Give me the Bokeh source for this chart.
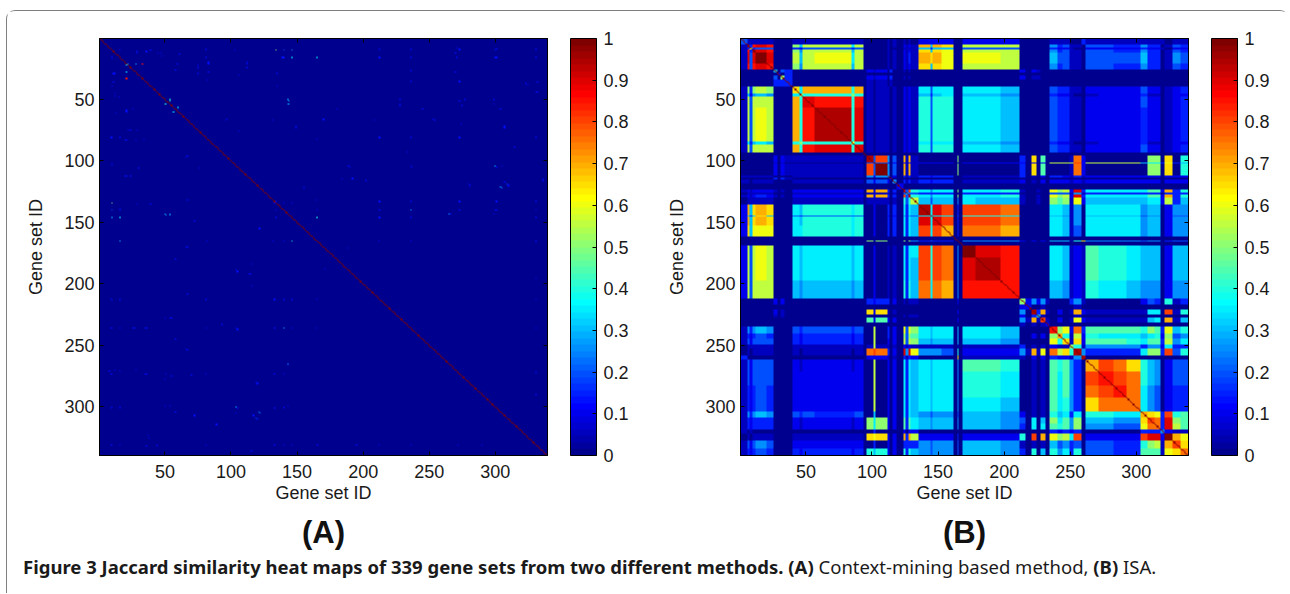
import numpy as np
from bokeh.embed import file_html
from bokeh.resources import INLINE
from bokeh.plotting import figure
from bokeh.layouts import row, column
from bokeh.models import (LinearColorMapper, ColorBar, FixedTicker, LinearAxis,
                          Range1d, Title, Div)

N_SETS = 339
axis_ticks = [50, 100, 150, 200, 250, 300]
bar_ticks = [0, .1, .2, .3, .4, .5, .6, .7, .8, .9, 1]
bar_labels = {0: "0", .1: "0.1", .2: "0.2", .3: "0.3", .4: "0.4", .5: "0.5",
              .6: "0.6", .7: "0.7", .8: "0.8", .9: "0.9", 1: "1"}
x_label = "Gene set ID"
y_label = "Gene set ID"

# Panel A: off-diagonal similarities (mirrored about the diagonal)
spot_i = [134,140,146,146,140,21,21,21,33,54,51,60,57,143,143,10,16,16,146,51,54,236,104,265,305,304,307,309]
spot_j = [10,10,10,16,16,22,28,33,21,50,54,56,60,50,54,134,146,165,165,144,144,140,300,143,122,121,117,119]
spot_v = [.42,.2,.28,.25,.15,.3,.33,.3,.85,.4,.42,.35,.35,.3,.3,.5,.35,.35,.4,.3,.3,.32,.35,.3,.25,.25,.2,.2]
faint_level = .14
faint_i = [10,16,29,39,47,61,81,81,75,83,83,59,75,112,103,11,11,12,15,26,21,20,24,34,10,97,132,149,
           67,76,30,20,24,155,122,72,82,16,29,39,133,140,146,132,140,67,
           166,195,212,236,272,290,212,236,271,273,301,331,212,236,301,331,270,236,270,273,236,323,332,332,
           228,228,180,245,277,299,299,275,304,253,170,208,274,307,212,236,273,331,233,315,190,237,305,301,
           192,184,202,336,280,212,236,273,301,331,212,273,301,331,299,212,236,331,212,236,331,188,
           58,104,114,10,16,81,133,140,146,54,93,104,10,16,26,36,81,133,146,58,67,143,10,16,36,51,55,81,140,
           120,10,16,54,140,120,117,72,89,38,10,16,133,140,146,44,115]
faint_j = [16,10,12,10,12,13,9,16,22,21,28,21,29,21,10,29,36,45,48,58,60,83,75,82,81,66,67,73,
           96,106,106,112,112,121,155,149,165,139,135,135,134,134,134,165,165,170,
           331,331,331,331,331,331,9,9,8,9,9,9,16,16,16,16,12,27,28,35,35,37,36,44,
           50,55,58,58,50,50,54,55,58,66,66,67,70,73,81,81,81,81,93,89,105,105,104,105,
           115,115,116,116,119,133,133,133,133,133,140,140,140,140,143,146,146,146,165,165,165,171,
           180,189,192,213,213,213,213,213,213,228,233,236,236,236,236,236,236,236,236,245,254,266,273,271,273,273,275,273,273,
           281,300,300,299,300,310,307,307,314,325,331,331,331,331,331,331,336]

# Panel B: first gene set ID of each band, and the read level between bands.
# One character per band pair: 0-9 = 0 to .45, a-k = .5 to 1, in steps of .05.
band_starts = [1,6,8,10,12,21,26,29,31,34,40,46,48,57,85,87,94,96,102,103,112,114,116,119,
               124,126,128,130,136,145,146,153,162,165,166,169,179,198,212,217,221,225,228,232,
               235,241,245,250,253,259,262,272,283,293,304,309,314,319,322,328,334]
band_levels = [
 "4 11111 0000 111111 0 000 1010 1010 2222 000 222 000000 111 003 1111 1111011",
 "j3hih 0000 a6bb7b 0 000 1010 2121 e6ed 000 bbb 000000 534 110 4433 5330143",
 "b344 0000 324434 0 000 1000 1111 6366 000 444 000000 322 100 2222 3221022",
 "jih 0000 a5bb6b 0 000 1010 2121 d6dc 000 bbb 000000 534 110 4433 5330143",
 "ki 0000 b6bc7b 0 000 1010 2131 edec 000 ccb 000000 644 110 4444 6330154",
 "h 0000 a5bb6b 0 000 1010 2121 d6dc 000 bbb 000000 534 110 4433 5330143",
 "6043 000000 0 212 0300 1010 0000 000 000 202100 000 000 0000 0000000",
 "203 000000 0 000 0000 0000 0000 000 000 000000 000 000 0000 0000000",
 "a3 000000 0 212 0300 1010 0000 000 000 201100 000 000 0000 0000000",
 "3 000000 0 101 0100 0000 0000 000 000 000000 000 000 0000 0000000",
 "d7ee8e 0 101 1010 2121 7477 000 776 000000 433 110 2222 4220123",
 "b88a8 0 101 1010 2121 6367 000 665 000000 322 100 1222 3110122",
 "ih8h 0 101 1010 2121 8488 000 776 000000 433 110 2222 4220123",
 "j8i 0 101 1010 2121 8488 000 776 000000 433 110 2222 3220123",
 "c8 0 101 1010 2121 7477 000 665 000000 322 100 1222 3110122",
 "i 0 101 1010 2121 8488 000 776 000000 433 110 2222 4220123",
 "0 000 0000 0000 0000 000 000 000000 000 000 0000 0000000",
 "j4g 5040 e1e1 0000 0a0 000 30d090 000 1f2 0000 0aa0d08",
 "b4 2020 2121 2222 010 222 202020 bbb bg2 bbbb 6773c36",
 "k 5040 e1e1 0000 0a0 000 30d090 000 1f2 0000 0aa0d08",
 "5020 3131 3233 000 111 301020 332 131 2222 2220222",
 "200 0000 0000 000 000 000000 000 000 0000 0000000",
 "50 3131 3233 000 111 201020 222 121 2222 2220222",
 "2 0000 0000 000 000 000000 000 000 0000 0000000",
 "i4g8 7577 0a0 778 100100 cab 2i3 7777 7992e38",
 "644 3333 000 333 000000 444 151 3333 3330333",
 "i8 7577 0a0 778 100100 cab 2i3 7777 7992e38",
 "b 6466 050 766 100100 a9a 1c2 6666 6772b36",
 "j7ig 030 ggf 000000 776 150 7777 5660255",
 "e77 040 887 000000 665 150 6666 4550244",
 "ig 030 ggf 000000 776 150 7777 5660255",
 "e 030 ffe 000000 776 140 7777 5660255",
 "000 000 000000 000 000 0000 0000000",
 "a0 555 202020 666 18d 5555 4550344",
 "0 000 000000 000 000 0000 0000000",
 "kih 000000 776 121 9887 6660266",
 "jh 000000 776 121 9887 6660266",
 "h 000000 665 121 8776 5550255",
 "a25251 000 351 0000 2430813",
 "20010 000 010 0000 0000000",
 "j3e1 020 1e2 1111 1770g18",
 "610 000 010 0000 0000000",
 "g1 020 1c2 1111 1670e16",
 "2 000 000 0000 0000000",
 "hac 2f3 9999 8a93c68",
 "e8 1b2 8777 6782a45",
 "d 1d2 9998 7993b57",
 "a81 5555 3552733",
 "j5 3333 7aa3g48",
 "j 0000 0000000",
 "egfd 8650244",
 "hgf 8650244",
 "hf 7540233",
 "f 7540233",
 "edc3g89",
 "gf3ia9",
 "f3ib9",
 "5211",
 "kec",
 "gd",
 "f",
]
level_chars = "0123456789abcdefghijk"

caption_bold = "Figure 3 Jaccard similarity heat maps of 339 gene sets from two different methods."
caption_a = "Context-mining based method,"
caption_b = "ISA."

# ---------------------------------------------------------------------------
za = np.zeros((N_SETS, N_SETS))
for i, j, v in zip(spot_i, spot_j, spot_v):
    za[j - 1, i - 1] = v
    za[i - 1, j - 1] = v
for i, j in zip(faint_i, faint_j):
    za[j - 1, i - 1] = faint_level
    za[i - 1, j - 1] = faint_level
np.fill_diagonal(za, 1.0)

nb = len(band_starts)
edges = [s - 1 for s in band_starts] + [N_SETS]
zb = np.zeros((N_SETS, N_SETS))
for a, rowtxt in enumerate(band_levels):
    chars = rowtxt.replace(" ", "")
    assert len(chars) == nb - a, (a, len(chars), nb - a)
    for k, ch in enumerate(chars):
        b = a + k
        v = level_chars.index(ch) * .05
        zb[edges[a]:edges[a + 1], edges[b]:edges[b + 1]] = v
        zb[edges[b]:edges[b + 1], edges[a]:edges[a + 1]] = v
np.fill_diagonal(zb, 1.0)

palette = []
for k in range(64):
    x = (k + 1) / 64
    r = np.clip(min(4 * x - 1.5, -4 * x + 4.5), 0, 1)
    g = np.clip(min(4 * x - 0.5, -4 * x + 3.5), 0, 1)
    bl = np.clip(min(4 * x + 0.5, -4 * x + 2.5), 0, 1)
    palette.append("#%02x%02x%02x" % (int(r * 255), int(g * 255), int(bl * 255)))
mapper = LinearColorMapper(palette=palette, low=0, high=1)

FONT = "Liberation Sans"
TXT = "#1a1a1a"
FS = "18px"

def panel(z, tag):
    p = figure(frame_width=449, frame_height=417,
               x_range=Range1d(.5, N_SETS + .5), y_range=Range1d(N_SETS + .5, .5),
               output_backend="svg", toolbar_location=None,
               min_border_left=92, min_border_right=100, min_border_top=27,
               min_border_bottom=10, background_fill_color="white",
               border_fill_color="white", outline_line_color="black")
    p.grid.visible = False
    p.image(image=[z], x=.5, y=.5, dw=N_SETS, dh=N_SETS, color_mapper=mapper)
    for ax, lab in ((p.xaxis[0], x_label), (p.yaxis[0], y_label)):
        ax.ticker = FixedTicker(ticks=axis_ticks)
        ax.axis_label = lab
        ax.axis_label_text_font = FONT
        ax.axis_label_text_font_style = "normal"
        ax.axis_label_text_font_size = FS
        ax.axis_label_text_color = TXT
        ax.major_label_text_font = FONT
        ax.major_label_text_font_size = FS
        ax.major_label_text_color = TXT
        ax.major_tick_in = 4
        ax.major_tick_out = 0
        ax.minor_tick_line_color = None
        ax.axis_line_color = "black"
    p.xaxis[0].major_label_standoff = 9
    p.yaxis[0].major_label_standoff = 5
    p.xaxis[0].axis_label_standoff = 2
    p.yaxis[0].axis_label_standoff = 15
    for side in ("above", "right"):
        extra = LinearAxis(ticker=FixedTicker(ticks=axis_ticks), major_tick_in=4, major_tick_out=0,
                           minor_tick_line_color=None, major_label_text_font_size="0px",
                           major_label_text_color=None, axis_line_color="black",
                           major_label_standoff=0)
        p.add_layout(extra, side)
    cb = ColorBar(color_mapper=mapper, ticker=FixedTicker(ticks=bar_ticks),
                  major_label_overrides=bar_labels, width=26, height=417,
                  major_label_text_font=FONT, major_label_text_font_size=FS,
                  major_label_text_color=TXT, major_tick_in=4, major_tick_line_color="black",
                  bar_line_color="black", padding=0, margin=0, location=(23, 0),
                  label_standoff=7, background_fill_color=None, border_line_color=None)
    p.add_layout(cb, "right")
    p.add_layout(Title(text=tag, align="center", text_font=FONT, text_font_size="31px",
                       text_font_style="bold", text_color="#111111", standoff=15), "below")
    return p

pa = panel(za, "(A)")
pb = panel(zb, "(B)")

cap = Div(text=f'<b>{caption_bold} (A)</b> {caption_a} <b>(B)</b> {caption_b}', width=1270, height=30,
          styles={"font-family": "'Noto Sans'", "font-size": "18.5px", "color": "#1a1a1a",
                  "margin-left": "16px", "margin-top": "-3px", "white-space": "nowrap"})

root = column(row(pa, pb), cap, width=1283, height=583,
              styles={"margin": "10px 0 0 6px", "border-left": "1px solid #808080",
                      "border-top": "1px solid #808080", "border-top-left-radius": "9px",
                      "border-top-right-radius": "9px", "border-right": "1px solid transparent",
                      "background": "white"})
open("out.html", "w").write(file_html(root, INLINE))
